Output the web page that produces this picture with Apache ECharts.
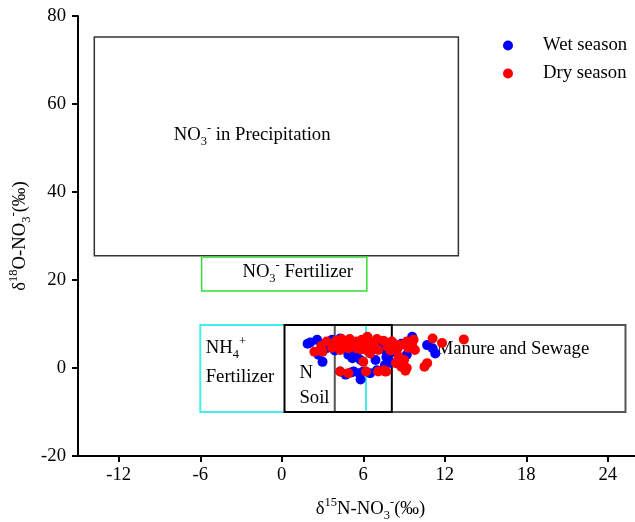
<!DOCTYPE html>
<html>
<head>
<meta charset="utf-8">
<script src="https://cdn.jsdelivr.net/npm/echarts@6/dist/echarts.min.js"></script>
<style>html,body{margin:0;padding:0;background:#fff}#c{width:635px;height:522px}</style>
</head>
<body>
<div id="c"></div>
<script>
// ---- data ----
var xTicks = [-12, -6, 0, 6, 12, 18, 24];
var yTicks = [-20, 0, 20, 40, 60, 80];

var wetSeason = [
  [1.9, 5.5], [2.1, 5.8], [2.6, 6.4], [2.7, 3.0], [3.0, 1.4], [3.3, 4.5], [3.7, 6.4], [4.3, 6.7],
  [4.9, 3.0], [5.2, 2.2], [5.5, 3.3], [5.8, 1.8], [4.3, -0.8], [5.3, -0.8], [5.7, -1.2], [6.0, -0.8],
  [5.8, -2.6], [6.5, -1.2], [7.0, -0.5], [7.4, -0.5], [7.4, 5.7], [7.6, 4.1], [6.9, 1.8], [9.6, 7.1],
  [10.7, 5.2], [11.1, 4.5], [11.3, 3.3], [7.6, 0.7], [7.7, 2.5], [8.0, 1.2], [8.5, 1.4],
  [4.6, 5.5], [5.0, 6.2], [6.2, 5.0], [8.0, 3.5], [8.8, 5.5], [9.2, 3.0], [3.9, 4.0], [4.7, -1.5], [5.1, -1.0]
];
var drySeason = [
  [2.4, 3.7], [3.0, 3.7], [3.3, 6.0], [3.7, 4.6], [2.9, 5.0],
  [4.1, 5.2], [4.4, 5.6], [4.8, 5.2], [5.2, 5.6], [5.5, 6.0], [5.9, 6.4], [6.4, 6.0], [6.8, 5.2],
  [4.3, 4.1], [4.9, 4.5], [5.5, 4.5], [6.2, 4.1], [4.4, 6.6], [6.3, 7.1], [6.5, 3.3], [6.0, 1.4], [7.1, 4.1],
  [4.3, -0.8], [4.9, -1.2], [6.2, -0.8], [7.5, -0.5], [7.1, -0.8], [7.7, -0.8],
  [7.8, 4.8], [8.2, 5.6], [8.7, 5.2], [9.2, 6.0], [9.7, 6.4], [9.8, 4.1],
  [8.6, 2.6], [9.0, 1.8], [8.4, 1.1], [8.8, 0.3], [9.2, 0.0], [9.1, -0.6], [7.6, -0.8],
  [10.5, 0.3], [10.7, 1.1], [11.1, 6.7], [13.4, 6.5], [11.8, 5.7],
  [8.0, 4.0], [8.5, 4.3], [9.3, 4.6], [9.6, 5.0], [8.1, 6.0], [7.5, 6.2],
  [5.0, 6.6], [6.0, 5.0], [5.8, 4.2], [6.6, 4.6], [7.0, 6.6], [4.0, 6.2]
];

// source boxes: [x1, x2, y1, y2]
var boxRanges = [
  [-13.8, 13.0, 25.5, 75.2],   // precipitation
  [-5.9, 6.26, 17.5, 25.2],    // NO3 fertilizer
  [3.9, 25.3, -10, 9.8],       // manure and sewage
  [-6.0, 6.2, -10, 9.8],       // NH4 fertilizer
  [0.2, 8.1, -10, 9.8]         // soil N
];
// labels: [x, y] anchor (left, middle)
var labelAnchors = [[-7.95, 53], [-2.9, 21.8], [-5.6, 4.5], [-5.6, -2.0], [1.3, -1.1], [1.3, -6.8], [11.4, 4.3]];
var labelTexts = [
  'NO{sub|3}{sup|-} in Precipitation',
  'NO{sub|3}{sup|-} Fertilizer',
  'NH{sub|4}{sup|+}',
  'Fertilizer',
  'N',
  'Soil',
  'Manure and Sewage'
];

// ---- styles ----
var boxColors = ['#333333', '#33dd33', '#555555', '#44eeee', '#000000'];
var boxWidths = [1.5, 1.5, 2, 2, 2];
var FONT = '"Liberation Serif", "Times New Roman", serif';
var FS = 18.7;
var richSS = {
  sub: { fontSize: 12.5, fontFamily: FONT, verticalAlign: 'bottom', lineHeight: 13, fill: '#000', color: '#000' },
  sup: { fontSize: 12.5, fontFamily: FONT, verticalAlign: 'top', lineHeight: 13, fill: '#000', color: '#000' }
};

var chart = echarts.init(document.getElementById('c'), null, { renderer: 'canvas' });
var option = {
  animation: false,
  backgroundColor: '#fff',
  grid: { left: 78, right: 0, top: 16, bottom: 66, containLabel: false, outerBoundsMode: 'none' },
  legend: {
    orient: 'vertical',
    left: 498,
    top: 31,
    icon: 'circle',
    itemWidth: 60,
    itemHeight: 10,
    itemGap: 9,
    textStyle: { fontFamily: FONT, fontSize: FS, color: '#000' },
    data: ['Wet season', 'Dry season']
  },
  xAxis: {
    type: 'value',
    min: -15,
    max: 26,
    axisLine: { onZero: false, lineStyle: { color: '#000', width: 2 } },
    axisTick: { customValues: xTicks, length: 6, lineStyle: { color: '#000', width: 2 } },
    axisLabel: { customValues: xTicks, margin: 10, fontFamily: FONT, fontSize: FS, color: '#000' },
    splitLine: { show: false },
    name: 'δ{sup|15}N-NO{sub|3}{sup|-}(‰)',
    nameLocation: 'middle',
    nameGap: 40,
    nameTextStyle: { fontFamily: FONT, fontSize: FS, color: '#000', lineHeight: 26, padding: [0, 0, 0, 28], rich: richSS }
  },
  yAxis: {
    type: 'value',
    min: -20,
    max: 80,
    interval: 20,
    axisLine: { show: true, onZero: false, lineStyle: { color: '#000', width: 2 } },
    axisTick: { show: true, length: 6, lineStyle: { color: '#000', width: 2 } },
    axisLabel: { margin: 12, fontFamily: FONT, fontSize: FS, color: '#000' },
    splitLine: { show: false },
    name: 'δ{sup|18}O-NO{sub|3}{sup|-}(‰)',
    nameLocation: 'middle',
    nameGap: 45,
    nameMoveOverlap: false,
    nameTextStyle: { fontFamily: FONT, fontSize: FS, color: '#000', lineHeight: 26, rich: richSS }
  },
  series: [
    {
      type: 'custom',
      name: 'boxes',
      silent: true,
      z: 1,
      data: boxRanges,
      renderItem: function (params, api) {
        var p1 = api.coord([api.value(0), api.value(3)]);
        var p2 = api.coord([api.value(1), api.value(2)]);
        var i = params.dataIndex;
        return {
          type: 'rect',
          shape: { x: p1[0], y: p1[1], width: p2[0] - p1[0], height: p2[1] - p1[1] },
          style: { fill: null, stroke: boxColors[i], lineWidth: boxWidths[i] }
        };
      }
    },
    {
      type: 'custom',
      name: 'labels',
      silent: true,
      z: 2,
      data: labelAnchors,
      renderItem: function (params, api) {
        var p = api.coord([api.value(0), api.value(1)]);
        return {
          type: 'text',
          x: p[0],
          y: p[1],
          style: {
            text: labelTexts[params.dataIndex],
            fontFamily: FONT,
            fontSize: FS,
            lineHeight: 26,
            fill: '#000',
            align: 'left',
            verticalAlign: 'middle',
            rich: richSS
          }
        };
      }
    },
    {
      type: 'scatter',
      name: 'Wet season',
      z: 3,
      symbol: 'circle',
      symbolSize: 10,
      itemStyle: { color: '#0000ff', opacity: 1 },
      data: wetSeason
    },
    {
      type: 'scatter',
      name: 'Dry season',
      z: 4,
      symbol: 'circle',
      symbolSize: 10,
      itemStyle: { color: '#ff0000', opacity: 1 },
      data: drySeason
    }
  ]
};
chart.setOption(option);
</script>
</body>
</html>
